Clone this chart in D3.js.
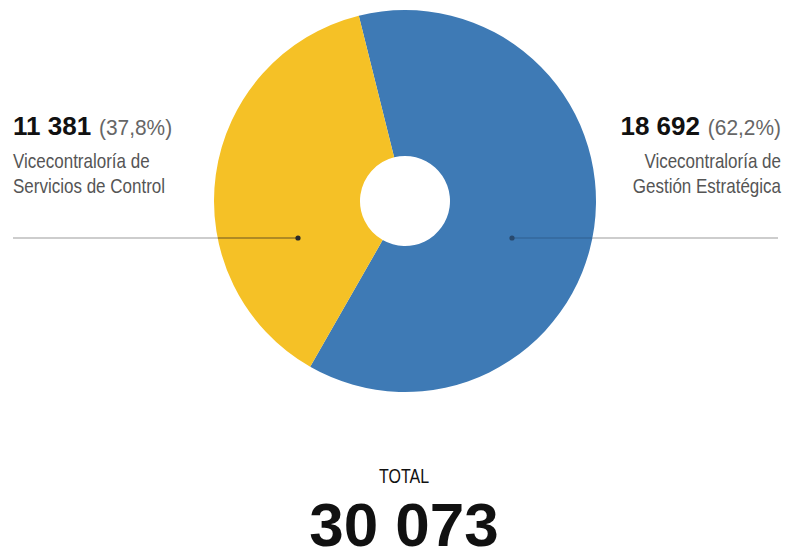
<!DOCTYPE html>
<html>
<head>
<meta charset="utf-8">
<script src="https://cdn.jsdelivr.net/npm/d3@7/dist/d3.min.js"></script>
<style>
  html, body { margin: 0; padding: 0; background: #fff; }
  svg { display: block; }
  .narrow { font-family: "Liberation Sans", Arial, sans-serif; }
  .bold { font-family: "Liberation Sans", Arial, sans-serif; font-weight: bold; }
</style>
</head>
<body>
<svg id="chart" width="787" height="551"></svg>
<script>
// Units by area
const names = [
  ["Vicecontraloría de", "Gestión Estratégica"],
  ["Vicecontraloría de", "Servicios de Control"]
];
const values = [18692, 11381];
const colors = ["#3e7ab5", "#f5c126"];
const totalLabel = "TOTAL";

const W = 787, H = 551;
const cx = 405, cy = 201, rOuter = 191, rInner = 45;
const startDeg = -14;
const squeeze = 0.85;   // horizontal condensing for the light label face

const svg = d3.select("#chart");
const total = d3.sum(values);
const fmtInt = n => d3.format(",")(n).replace(/,/g, " ");
const fmtPct = v => "(" + d3.format(".1f")(v * 100).replace(".", ",") + "%)";

const pie = d3.pie().sort(null)
  .startAngle(startDeg * Math.PI / 180)
  .endAngle((startDeg + 360) * Math.PI / 180);
const arc = d3.arc().innerRadius(rInner).outerRadius(rOuter);

const g = svg.append("g").attr("transform", `translate(${cx},${cy})`);
g.selectAll("path").data(pie(values)).join("path")
  .attr("d", arc)
  .attr("fill", (d, i) => colors[i]);

// leader lines with a dot inside each slice
const lineY = 37;
const dotDx = 107;
const edgeDx = Math.sqrt(rOuter * rOuter - lineY * lineY);
const leaders = [
  { side: 1, outerEnd: 778 },   // blue, right
  { side: -1, outerEnd: 13 }    // yellow, left
];
leaders.forEach((l, i) => {
  const yy = cy + lineY;
  const dotX = cx + l.side * dotDx;
  const edgeX = cx + l.side * edgeDx;
  svg.append("line")
    .attr("x1", l.outerEnd).attr("x2", edgeX).attr("y1", yy).attr("y2", yy)
    .attr("stroke", "#bdbdbd").attr("stroke-width", 1.3);
  svg.append("line")
    .attr("x1", edgeX).attr("x2", dotX).attr("y1", yy).attr("y2", yy)
    .attr("stroke", i === 0 ? "#2f5f90" : "#6a5520").attr("stroke-width", 1.2);
  svg.append("circle")
    .attr("cx", dotX).attr("cy", yy).attr("r", 2.6)
    .attr("fill", i === 0 ? "#28496e" : "#2a2a2a");
});

// condensed text placed at (x, y)
function narrowText(x, y, anchor, size, fill, sx, text) {
  return svg.append("g")
    .attr("transform", `translate(${x},${y}) scale(${sx},1)`)
    .append("text").attr("class", "narrow")
    .attr("text-anchor", anchor)
    .attr("font-size", size).attr("fill", fill)
    .text(text);
}

// value labels
function valueLabel(i, side) {
  const pctStr = fmtPct(values[i] / total);
  if (side === "left") {
    svg.append("text").attr("class", "bold")
      .attr("x", 13).attr("y", 135).attr("font-size", 26).attr("fill", "#111")
      .text(fmtInt(values[i]));
    narrowText(99, 135, "start", 22, "#666", 0.95, pctStr);
    names[i].forEach((s, k) => narrowText(13, 168 + k * 25, "start", 20, "#555", squeeze, s));
  } else {
    narrowText(781, 135, "end", 22, "#666", 0.95, pctStr);
    svg.append("text").attr("class", "bold")
      .attr("x", 700).attr("y", 135).attr("text-anchor", "end")
      .attr("font-size", 26).attr("fill", "#111")
      .text(fmtInt(values[i]));
    names[i].forEach((s, k) => narrowText(781, 168 + k * 25, "end", 20, "#555", squeeze, s));
  }
}
valueLabel(1, "left");
valueLabel(0, "right");

// total
narrowText(404, 483, "middle", 20, "#111", 0.8, totalLabel);
svg.append("text").attr("class", "bold")
  .attr("x", 404).attr("y", 546).attr("text-anchor", "middle")
  .attr("font-size", 62).attr("fill", "#111")
  .text(fmtInt(total));
</script>
</body>
</html>
